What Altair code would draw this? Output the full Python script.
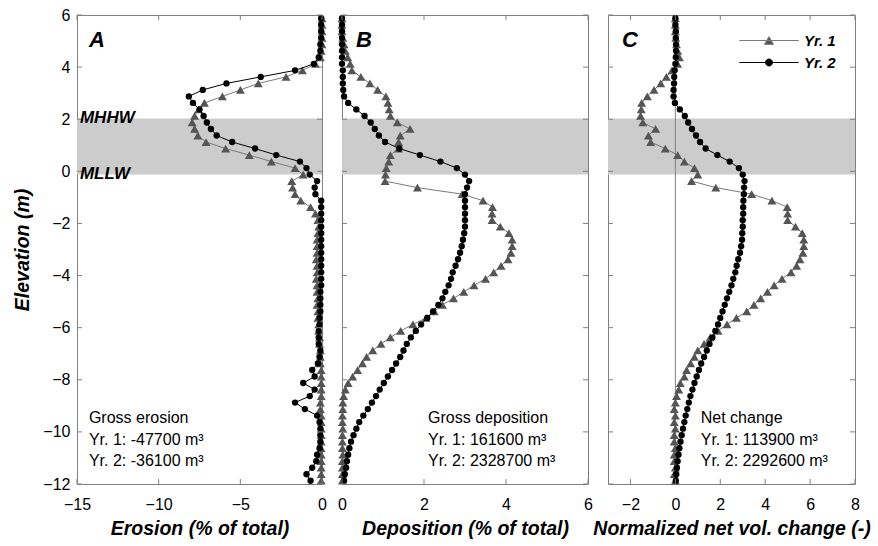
import altair as alt
import pandas as pd

# Elevation bin centres (m)
ELEVATION = [
    5.875, 5.625, 5.375, 5.125, 4.875, 4.625, 4.375, 4.125,
    3.875, 3.625, 3.375, 3.125, 2.875, 2.625, 2.375, 2.125,
    1.875, 1.625, 1.375, 1.125, 0.875, 0.625, 0.375, 0.125,
    -0.125, -0.375, -0.625, -0.875, -1.125, -1.375, -1.625, -1.875,
    -2.125, -2.375, -2.625, -2.875, -3.125, -3.375, -3.625, -3.875,
    -4.125, -4.375, -4.625, -4.875, -5.125, -5.375, -5.625, -5.875,
    -6.125, -6.375, -6.625, -6.875, -7.125, -7.375, -7.625, -7.875,
    -8.125, -8.375, -8.625, -8.875, -9.125, -9.375, -9.625, -9.875,
    -10.125, -10.375, -10.625, -10.875, -11.125, -11.375, -11.625, -11.875,
]

# Erosion (% of total)
EROSION_YR1 = [
    0.0, 0.0, 0.0, 0.0, 0.0, -0.05, -0.1, -0.4,
    -1.2, -2.2, -3.9, -5.0, -6.1, -7.2, -7.55, -7.8,
    -7.95, -7.8, -7.6, -7.1, -5.9, -4.45, -3.1, -1.65,
    -1.15, -1.85, -1.8, -1.65, -1.3, -0.7, -0.4, -0.25,
    -0.2, -0.25, -0.3, -0.3, -0.3, -0.35, -0.3, -0.3,
    -0.35, -0.3, -0.3, -0.25, -0.3, -0.25, -0.25, -0.2,
    -0.2, -0.15, -0.15, -0.1, -0.1, -0.1, -0.05, -0.05,
    -0.05, -0.05, -0.05, -0.1, -0.1, -0.05, -0.05, -0.05,
    -0.05, -0.05, -0.05, -0.05, -0.05, -0.05, -0.05, -0.05,
]
EROSION_YR2 = [
    -0.05, -0.05, -0.05, -0.05, -0.1, -0.1, -0.2, -0.5,
    -1.65, -3.75, -5.85, -7.3, -8.15, -7.9, -7.5, -7.25,
    -7.05, -6.8, -6.45, -5.5, -4.1, -2.8, -1.35, -0.95,
    -0.75, -0.3, -0.45, -0.4, -0.05, -0.05, -0.05, -0.05,
    -0.05, -0.05, -0.05, -0.05, -0.05, -0.05, -0.05, -0.05,
    -0.05, -0.05, -0.1, -0.1, -0.1, -0.1, -0.15, -0.15,
    -0.2, -0.2, -0.2, -0.1, -0.15, -0.25, -0.6, -0.45,
    -1.15, -0.45, -0.75, -1.65, -1.05, -0.3, -0.15, -0.1,
    -0.1, -0.1, -0.15, -0.3, -0.35, -0.6, -0.95, -0.7,
]

# Deposition (% of total)
DEPOSITION_YR1 = [
    0.0, 0.0, 0.0, 0.02, 0.05, 0.08, 0.14, 0.2,
    0.24, 0.46, 0.68, 0.87, 1.07, 1.12, 1.15, 1.18,
    1.35, 1.66, 1.42, 1.38, 1.38, 1.18, 1.14, 1.08,
    1.06, 1.05, 1.84, 2.93, 3.44, 3.67, 3.66, 3.66,
    3.86, 4.07, 4.15, 4.15, 4.12, 4.05, 3.88, 3.7,
    3.5, 3.22, 2.97, 2.72, 2.45, 2.25, 2.05, 1.73,
    1.43, 1.18, 0.95, 0.75, 0.6, 0.5, 0.38, 0.26,
    0.15, 0.08, 0.04, 0.02, 0.02, 0.01, 0.01, 0.02,
    0.01, 0.01, 0.01, 0.02, 0.01, 0.01, 0.01, 0.01,
]
DEPOSITION_YR2 = [
    0.0, 0.0, 0.0, 0.0, 0.0, 0.0, 0.0, 0.0,
    0.02, 0.02, 0.02, 0.03, 0.05, 0.15, 0.35, 0.55,
    0.7, 0.8, 0.9, 1.05, 1.4, 1.9, 2.4, 2.8,
    3.0, 3.1, 3.05, 3.0, 3.0, 3.0, 3.0, 3.0,
    3.0, 2.98, 2.95, 2.92, 2.88, 2.83, 2.77, 2.7,
    2.66, 2.6, 2.52, 2.45, 2.35, 2.22, 2.08, 1.93,
    1.8, 1.68, 1.58, 1.5, 1.42, 1.32, 1.22, 1.12,
    1.02, 0.92, 0.83, 0.73, 0.63, 0.52, 0.42, 0.35,
    0.28, 0.22, 0.18, 0.15, 0.12, 0.1, 0.07, 0.05,
]

# Normalized net volume change (-)
NET_YR1 = [
    0.0, 0.0, 0.0, 0.02, 0.05, 0.1, 0.18, 0.1,
    -0.15, -0.4, -0.65, -0.95, -1.25, -1.5, -1.52, -1.55,
    -1.45, -0.88, -1.2, -1.1, -0.45, 0.1, 0.4, 0.85,
    1.0, 0.72, 1.8, 3.4, 4.3, 4.98, 5.0, 5.0,
    5.35, 5.65, 5.72, 5.72, 5.68, 5.55, 5.4, 5.15,
    4.75, 4.4, 4.1, 3.8, 3.5, 3.18, 2.72, 2.3,
    1.9, 1.55, 1.28, 1.0, 0.85, 0.68, 0.5, 0.4,
    0.22, 0.15, 0.05, 0.0, -0.05, 0.0, -0.05, 0.0,
    -0.05, -0.05, 0.0, -0.05, -0.05, 0.0, -0.05, 0.0,
]
NET_YR2 = [
    0.0, 0.0, 0.02, 0.02, 0.03, 0.03, 0.02, 0.0,
    -0.03, -0.05, -0.06, -0.08, -0.08, -0.02, 0.2, 0.42,
    0.57, 0.74, 0.92, 1.1, 1.35, 1.87, 2.42, 2.83,
    3.0, 3.08, 3.06, 3.05, 3.03, 3.02, 3.02, 3.0,
    3.0, 2.98, 2.97, 2.93, 2.88, 2.8, 2.73, 2.67,
    2.58, 2.5, 2.4, 2.3, 2.2, 2.1, 2.0, 1.9,
    1.78, 1.65, 1.52, 1.4, 1.28, 1.15, 1.05, 0.95,
    0.85, 0.76, 0.67, 0.6, 0.53, 0.46, 0.4, 0.34,
    0.28, 0.23, 0.18, 0.14, 0.1, 0.07, 0.04, 0.02,
]

SERIES = ["Yr. 1", "Yr. 2"]
TIDE_NAMES = ["MHHW", "MLLW"]
TIDE_ELEV = [2.03, -0.12]
Y_TICKS = [6, 4, 2, 0, -2, -4, -6, -8, -10, -12]

EROSION_NOTES = ["Gross erosion", "Yr. 1: -47700 m³", "Yr. 2: -36100 m³"]
DEPOSITION_NOTES = ["Gross deposition", "Yr. 1: 161600 m³", "Yr. 2: 2328700 m³"]
NET_NOTES = ["Net change", "Yr. 1: 113900 m³", "Yr. 2: 2292600 m³"]

# ---- styling ----
FONT = "Liberation Sans"
FRAME = "#808080"
YR1_LINE, YR1_MARK = "#7a7a7a", "#555555"
YR2_LINE, YR2_MARK = "#000000", "#000000"
H = 469
TICK = 5
NOTE_ELEV = [-9.66, -10.49, -11.29]
LETTER_ELEV = 4.77
SPACING = 20
WIDTHS = [245, 246, 247]

# legend glyphs: a line segment with the marker in the middle
TRI_KEY = "M-6.6,0L6.6,0M0,-0.866L1,0.866L-1,0.866Z"
DOT_KEY = "M-6.6,0L6.6,0M0.78,0A0.78,0.78,0,1,1,-0.78,0A0.78,0.78,0,1,1,0.78,0Z"

profiles = pd.DataFrame({
    "elev": ELEVATION,
    "ero1": EROSION_YR1, "ero2": EROSION_YR2,
    "dep1": DEPOSITION_YR1, "dep2": DEPOSITION_YR2,
    "net1": NET_YR1, "net2": NET_YR2,
})
tides = pd.DataFrame({"name": TIDE_NAMES, "elev": TIDE_ELEV})


def panel(width, letter, f1, f2, domain, xticks, xtitle, notes, note_x,
          letter_x, tide_label_x=None, left_axis=False, zero_line=False,
          legend_x=None):
    xs = alt.Scale(domain=domain, nice=False, zero=False)
    ys = alt.Scale(domain=[-12, 6], nice=False, zero=False)
    yaxis = (alt.Axis(values=Y_TICKS, title="Elevation (m)", labelPadding=7,
                      titlePadding=10)
             if left_axis else None)

    base = alt.Chart(profiles)
    band = alt.Chart(pd.DataFrame({"top": [TIDE_ELEV[0]], "bot": [TIDE_ELEV[1]]})).mark_rect(
        color="#cccccc"
    ).encode(
        y=alt.Y("top:Q", scale=ys, axis=yaxis),
        y2="bot:Q",
        x=alt.value(0),
        x2=alt.value(width),
    )

    def series(field, line_color, mark_color, shape, size):
        enc = dict(
            x=alt.X(f"{field}:Q", scale=xs,
                    axis=alt.Axis(values=xticks, title=xtitle, labelPadding=12,
                                  titlePadding=7)),
            y=alt.Y("elev:Q", scale=ys),
            order=alt.Order("elev:Q", sort="descending"),
        )
        ln = base.mark_line(color=line_color, strokeWidth=1).encode(**enc)
        pt = base.mark_point(filled=True, shape=shape, size=size, color=mark_color,
                             opacity=1).encode(x=enc["x"], y=enc["y"])
        return [ln, pt]

    layers = [band]
    if zero_line:
        layers.append(
            alt.Chart(pd.DataFrame({"x0": [0]})).mark_rule(color=FRAME, strokeWidth=1).encode(
                x=alt.X("x0:Q", scale=xs), y=alt.value(0), y2=alt.value(H)
            )
        )
    layers += series(f1, YR1_LINE, YR1_MARK, "triangle-up", 80)
    layers += series(f2, YR2_LINE, YR2_MARK, "circle", 40)

    # inward ticks on all four sides
    xt = pd.DataFrame({"v": xticks})
    yt = pd.DataFrame({"v": Y_TICKS})
    tick_style = dict(color=FRAME, strokeWidth=1)
    layers += [
        alt.Chart(xt).mark_rule(**tick_style).encode(
            x=alt.X("v:Q", scale=xs), y=alt.value(0), y2=alt.value(TICK)),
        alt.Chart(xt).mark_rule(**tick_style).encode(
            x=alt.X("v:Q", scale=xs), y=alt.value(H), y2=alt.value(H - TICK)),
        alt.Chart(yt).mark_rule(**tick_style).encode(
            y=alt.Y("v:Q", scale=ys), x=alt.value(0), x2=alt.value(TICK)),
        alt.Chart(yt).mark_rule(**tick_style).encode(
            y=alt.Y("v:Q", scale=ys), x=alt.value(width), x2=alt.value(width - TICK)),
    ]

    # panel letter
    layers.append(
        alt.Chart(pd.DataFrame({"t": [letter], "x": [letter_x], "y": [LETTER_ELEV]})).mark_text(
            font=FONT, fontSize=22, fontWeight="bold", fontStyle="italic",
            align="left", baseline="alphabetic", color="black"
        ).encode(x=alt.X("x:Q", scale=xs), y=alt.Y("y:Q", scale=ys), text="t:N")
    )

    # volume notes
    layers.append(
        alt.Chart(pd.DataFrame({"t": notes, "x": [note_x] * 3, "y": NOTE_ELEV})).mark_text(
            font=FONT, fontSize=16, align="left", baseline="alphabetic", color="black"
        ).encode(x=alt.X("x:Q", scale=xs), y=alt.Y("y:Q", scale=ys), text="t:N")
    )

    if tide_label_x is not None:
        layers.append(
            alt.Chart(tides.assign(x=tide_label_x)).mark_text(
                font=FONT, fontSize=17, fontWeight="bold", fontStyle="italic",
                align="left", baseline="middle", color="black"
            ).encode(x=alt.X("x:Q", scale=xs), y=alt.Y("elev:Q", scale=ys), text="name:N")
        )

    if legend_x is not None:
        lg = alt.Legend(
            title=None, orient="none", legendX=legend_x, legendY=18,
            symbolSize=81, symbolStrokeWidth=1, labelOffset=27.5,
            labelFont=FONT, labelFontSize=15, labelFontWeight="bold",
            labelFontStyle="italic", labelColor="black", rowPadding=6,
        )
        layers.append(
            alt.Chart(pd.DataFrame({"series": SERIES})).transform_filter("false")
            .mark_point(filled=True, opacity=1, strokeWidth=1)
            .encode(
                shape=alt.Shape("series:N", scale=alt.Scale(domain=SERIES, range=[TRI_KEY, DOT_KEY]), legend=lg),
                fill=alt.Fill("series:N", scale=alt.Scale(domain=SERIES, range=[YR1_MARK, YR2_MARK]), legend=lg),
                stroke=alt.Stroke("series:N", scale=alt.Scale(domain=SERIES, range=[YR1_LINE, YR2_LINE]), legend=lg),
            )
        )

    return alt.layer(*layers).properties(width=width, height=H)


pa = panel(WIDTHS[0], "A", "ero1", "ero2", [-15, 0], [-15, -10, -5, 0],
           "Erosion (% of total)", EROSION_NOTES, -14.27, -14.27,
           tide_label_x=-14.82, left_axis=True)
pb = panel(WIDTHS[1], "B", "dep1", "dep2", [0, 6], [0, 2, 4, 6],
           "Deposition (% of total)", DEPOSITION_NOTES, 2.1, 0.34)
# the legend of a concatenated chart is placed from the first panel's origin
pc = panel(WIDTHS[2], "C", "net1", "net2", [-3, 8], [-2, 0, 2, 4, 6, 8],
           "Normalized net vol. change (-)", NET_NOTES, 1.13, -2.38,
           zero_line=True,
           legend_x=WIDTHS[0] + WIDTHS[1] + 2 * SPACING + 153.5)

chart = alt.hconcat(pa, pb, pc, spacing=SPACING, bounds="flush").properties(
    padding={"left": 12, "top": 6, "right": 5, "bottom": 5}
).configure_view(
    stroke=FRAME, strokeWidth=1
).configure_axis(
    domain=False, ticks=False, tickSize=0, grid=False,
    labelFlush=False, labelOverlap=False,
    labelFont=FONT, labelFontSize=16, labelColor="black",
    titleFont=FONT, titleFontSize=19.5, titleFontWeight="bold",
    titleFontStyle="italic", titleColor="black",
)

chart.save("out.html", embed_options={"renderer": "svg", "actions": False})
